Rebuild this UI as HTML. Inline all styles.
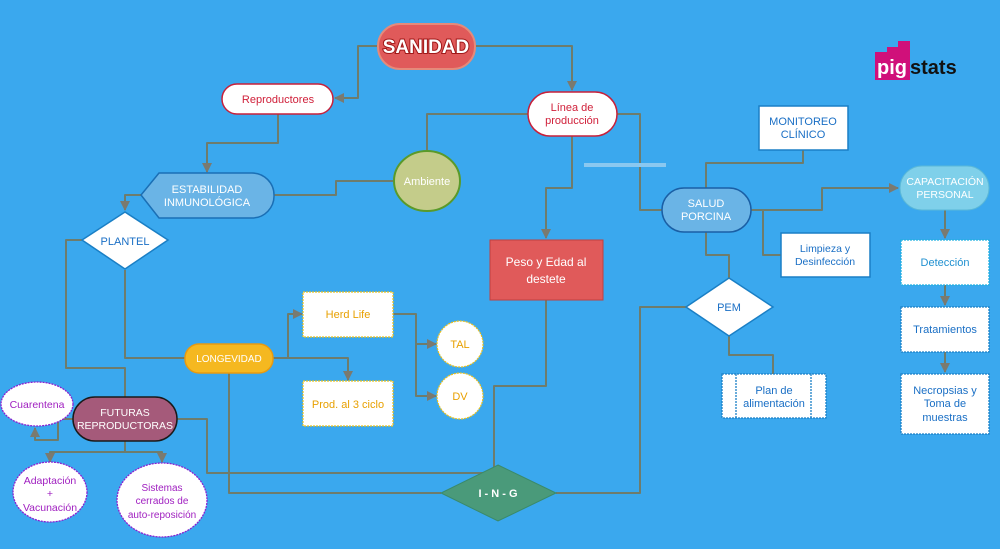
<!DOCTYPE html>
<html><head><meta charset="utf-8"><style>
html,body{margin:0;padding:0;background:#3aa8ee;}
svg{display:block;font-family:"Liberation Sans",sans-serif;}
</style></head><body>
<svg width="1000" height="549" viewBox="0 0 1000 549" xmlns="http://www.w3.org/2000/svg">
<defs>
<marker id="a" viewBox="0 0 10 10" refX="9" refY="5" markerWidth="5" markerHeight="5" orient="auto"><path d="M0,0 L10,5 L0,10 z" fill="#7a7a70"/></marker>
</defs>
<rect width="1000" height="549" fill="#3aa8ee"/>
<g fill="none" stroke="#6e7c6c" stroke-width="2" stroke-linejoin="round">
<path d="M378,46 H358 V98 H335" marker-end="url(#a)"/>
<path d="M475,46 H572 V90" marker-end="url(#a)"/>
<path d="M278,114 V143 H207 V172" marker-end="url(#a)"/>
<path d="M393,181 H336 V195 H274"/>
<path d="M427,150 V114 H528"/>
<path d="M572,136 V188 H546 V238" marker-end="url(#a)"/>
<path d="M617,114 H640 V210 H662"/>
<path d="M546,300 V386 H494 V473"/>
<path d="M141,195 H125 V210" marker-end="url(#a)"/>
<path d="M82,240 H66 V368 H125 V397"/>
<path d="M125,270 V358 H185"/>
<path d="M273,358 H288 V314 H302" marker-end="url(#a)"/>
<path d="M273,358 H348 V380" marker-end="url(#a)"/>
<path d="M393,314 H416 V344 H436" marker-end="url(#a)"/>
<path d="M416,340 V396 H436" marker-end="url(#a)"/>
<path d="M229,373 V493 H441"/>
<path d="M177,419 H207 V473 H494"/>
<path d="M556,493 H640 V307 H686"/>
<path d="M73,419 H58 V440 H35 V428" marker-end="url(#a)"/>
<path d="M125,441 V452 H50 V462" marker-end="url(#a)"/>
<path d="M125,452 H162 V462" marker-end="url(#a)"/>
<path d="M706,188 V163 H803 V150"/>
<path d="M751,210 H822 V188 H898" marker-end="url(#a)"/>
<path d="M763,210 V255 H781"/>
<path d="M706,232 V255 H729 V280"/>
<path d="M729,336 V355 H773 V374"/>
<path d="M945,210 V238" marker-end="url(#a)"/>
<path d="M945,285 V305" marker-end="url(#a)"/>
<path d="M945,352 V372" marker-end="url(#a)"/>
</g>
<rect x="584" y="163" width="82" height="4" fill="#8ac8f0"/>
<rect x="378" y="24" width="97" height="45" rx="22" fill="#e05a5a" stroke="#e58a7a" stroke-width="2"/>
<text x="426" y="53" font-size="19" font-weight="bold" fill="#fff" text-anchor="middle" stroke="#a01818" stroke-width="2" paint-order="stroke">SANIDAD</text>
<rect x="222" y="84" width="111" height="30" rx="15" fill="#fff" stroke="#c8203a" stroke-width="1.5"/>
<text x="278" y="103" font-size="11" fill="#d0203a" text-anchor="middle">Reproductores</text>
<rect x="528" y="92" width="89" height="44" rx="22" fill="#fff" stroke="#c8203a" stroke-width="1.5"/>
<text x="572" y="111" font-size="11" fill="#d0203a" text-anchor="middle">Línea de</text>
<text x="572" y="124" font-size="11" fill="#d0203a" text-anchor="middle">producción</text>
<path d="M159,173 H252 A22,22 0 0 1 274,195 A22,22 0 0 1 252,218 H159 L141,195 Z" fill="#6ab4e6" stroke="#1a6fb5" stroke-width="1.5"/>
<text x="207" y="193" font-size="11" fill="#fff" text-anchor="middle">ESTABILIDAD</text>
<text x="207" y="206" font-size="11" fill="#fff" text-anchor="middle">INMUNOLÓGICA</text>
<ellipse cx="427" cy="181" rx="33" ry="30" fill="#c4cc8a" stroke="#5a9a2a" stroke-width="2"/>
<text x="427" y="185" font-size="11" fill="#fff" text-anchor="middle">Ambiente</text>
<path d="M125,212 L168,240 L125,269 L82,240 Z" fill="#fff" stroke="#1a7fc5" stroke-width="1.5"/>
<text x="125" y="245" font-size="11" fill="#1a6fc5" text-anchor="middle">PLANTEL</text>
<rect x="490" y="240" width="113" height="60" fill="#e05a5a" stroke="#c04040" stroke-width="1"/>
<text x="546" y="266" font-size="12" fill="#fff" text-anchor="middle">Peso y Edad al</text>
<text x="546" y="283" font-size="12" fill="#fff" text-anchor="middle">destete</text>
<rect x="185" y="344" width="88" height="29" rx="14" fill="#f5b820" stroke="#e89a10" stroke-width="1.5"/>
<text x="229" y="362" font-size="10" fill="#fff" text-anchor="middle">LONGEVIDAD</text>
<rect x="303" y="292" width="90" height="45" fill="#fff" stroke="#e8c020" stroke-width="1.2" stroke-dasharray="2,1"/>
<text x="348" y="318" font-size="11" fill="#e8a000" text-anchor="middle">Herd Life</text>
<rect x="303" y="381" width="90" height="45" fill="#fff" stroke="#e8c020" stroke-width="1.2" stroke-dasharray="2,1"/>
<text x="348" y="408" font-size="11" fill="#e8a000" text-anchor="middle">Prod. al 3 ciclo</text>
<circle cx="460" cy="344" r="23" fill="#fff" stroke="#e8c020" stroke-width="1.2" stroke-dasharray="2,1"/>
<text x="460" y="348" font-size="11" fill="#e8a000" text-anchor="middle">TAL</text>
<circle cx="460" cy="396" r="23" fill="#fff" stroke="#e8c020" stroke-width="1.2" stroke-dasharray="2,1"/>
<text x="460" y="400" font-size="11" fill="#e8a000" text-anchor="middle">DV</text>
<rect x="73" y="397" width="104" height="44" rx="22" fill="#a55a7a" stroke="#1a1a1a" stroke-width="1.5"/>
<text x="125" y="416" font-size="10.5" fill="#fff" text-anchor="middle">FUTURAS</text>
<text x="125" y="429" font-size="10.5" fill="#fff" text-anchor="middle">REPRODUCTORAS</text>
<g fill="#fff" stroke="#8a20d0" stroke-width="1.3" stroke-dasharray="2,1">
<ellipse cx="37" cy="404" rx="36" ry="22"/>
<ellipse cx="50" cy="492" rx="37" ry="30"/>
<ellipse cx="162" cy="500" rx="45" ry="37"/>
</g>
<g font-size="10.5" fill="#a020c0" text-anchor="middle">
<text x="37" y="408">Cuarentena</text>
<text x="50" y="484">Adaptación</text>
<text x="50" y="497">+</text>
<text x="50" y="511">Vacunación</text>
<text x="162" y="491" font-size="10">Sistemas</text>
<text x="162" y="504" font-size="10">cerrados de</text>
<text x="162" y="518" font-size="10">auto-reposición</text>
</g>
<path d="M498,465 L556,493 L498,521 L441,493 Z" fill="#4a9a7a" stroke="#3a8a6a" stroke-width="1"/>
<text x="498" y="497" font-size="11" fill="#fff" text-anchor="middle" font-weight="bold">I - N - G</text>
<rect x="662" y="188" width="89" height="44" rx="22" fill="#6ab4e6" stroke="#1a5fa5" stroke-width="1.5"/>
<text x="706" y="207" font-size="11" fill="#fff" text-anchor="middle">SALUD</text>
<text x="706" y="220" font-size="11" fill="#fff" text-anchor="middle">PORCINA</text>
<rect x="759" y="106" width="89" height="44" fill="#fff" stroke="#1a7fc5" stroke-width="1.5"/>
<text x="803" y="125" font-size="11" fill="#1a6fc5" text-anchor="middle">MONITOREO</text>
<text x="803" y="138" font-size="11" fill="#1a6fc5" text-anchor="middle">CLÍNICO</text>
<rect x="781" y="233" width="89" height="44" fill="#fff" stroke="#1a7fc5" stroke-width="1.5"/>
<text x="825" y="252" font-size="10.5" fill="#1a6fc5" text-anchor="middle">Limpieza y</text>
<text x="825" y="265" font-size="10.5" fill="#1a6fc5" text-anchor="middle">Desinfección</text>
<path d="M729,278 L773,307 L729,336 L686,307 Z" fill="#fff" stroke="#1a7fc5" stroke-width="1.5"/>
<text x="729" y="311" font-size="11" fill="#1a6fc5" text-anchor="middle">PEM</text>
<rect x="722" y="374" width="104" height="44" fill="#fff" stroke="#1a7fc5" stroke-width="1.3" stroke-dasharray="2,1"/>
<line x1="736" y1="374" x2="736" y2="418" stroke="#1a7fc5" stroke-width="1.3" stroke-dasharray="2,1"/>
<line x1="811" y1="374" x2="811" y2="418" stroke="#1a7fc5" stroke-width="1.3" stroke-dasharray="2,1"/>
<text x="774" y="394" font-size="11" fill="#1a6fc5" text-anchor="middle">Plan de</text>
<text x="774" y="407" font-size="11" fill="#1a6fc5" text-anchor="middle">alimentación</text>
<rect x="900" y="166" width="89" height="44" rx="22" fill="#7fd0ea" stroke="#5ab8d8" stroke-width="1"/>
<text x="945" y="185" font-size="10.5" fill="#fff" text-anchor="middle">CAPACITACIÓN</text>
<text x="945" y="198" font-size="10.5" fill="#fff" text-anchor="middle">PERSONAL</text>
<rect x="901" y="240" width="88" height="45" fill="#fff" stroke="#20b0e0" stroke-width="1.3" stroke-dasharray="2,1"/>
<text x="945" y="266" font-size="11" fill="#2090d0" text-anchor="middle">Detección</text>
<rect x="901" y="307" width="88" height="45" fill="#fff" stroke="#1a7fc5" stroke-width="1.3" stroke-dasharray="2,1"/>
<text x="945" y="333" font-size="11" fill="#1a6fc5" text-anchor="middle">Tratamientos</text>
<rect x="901" y="374" width="88" height="60" fill="#fff" stroke="#1a7fc5" stroke-width="1.3" stroke-dasharray="2,1"/>
<text x="945" y="394" font-size="11" fill="#1a6fc5" text-anchor="middle">Necropsias y</text>
<text x="945" y="407" font-size="11" fill="#1a6fc5" text-anchor="middle">Toma de</text>
<text x="945" y="421" font-size="11" fill="#1a6fc5" text-anchor="middle">muestras</text>
<path d="M875,80 V52 H887 V47 H898 V41 H910 V80 Z" fill="#d0107a"/>
<text x="877" y="74" font-size="20" font-weight="bold" fill="#fff">pig</text>
<text x="910" y="74" font-size="20" font-weight="bold" fill="#111">stats</text>
</svg>
</body></html>
